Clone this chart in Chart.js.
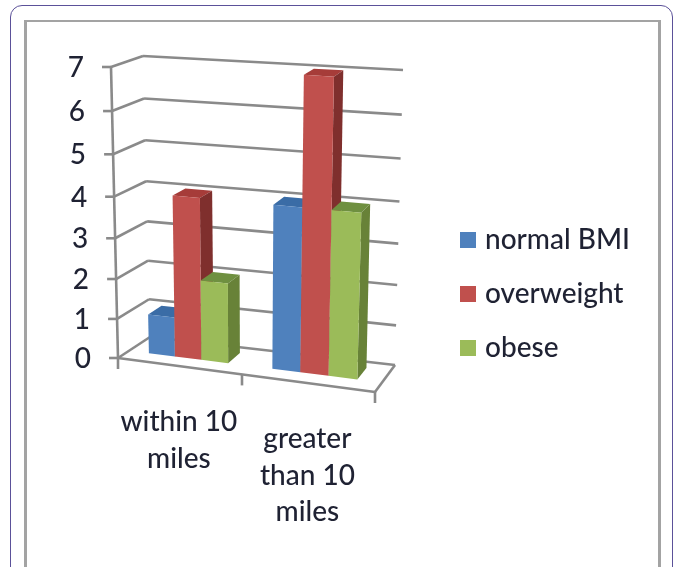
<!DOCTYPE html>
<html>
<head>
<meta charset="utf-8">
<title>BMI by distance</title>
<script src="https://cdn.jsdelivr.net/npm/chart.js@4"></script>
<style>
  html, body { margin: 0; padding: 0; background: #fff; overflow: hidden; }
  #outer { position: absolute; left: 10px; top: 5px; width: 663px; height: 620px; border: 1.5px solid #5b5199; border-radius: 12px; box-sizing: border-box; }
  #inner { position: absolute; left: 24px; top: 20px; width: 637px; height: 620px; border: 3px solid #a3a3a3; border-top-width: 2px; box-sizing: border-box; }
  #chart { position: absolute; left: 0; top: 0; }
</style>
</head>
<body>
<div id="outer"></div>
<div id="inner"></div>
<canvas id="chart" width="676" height="567"></canvas>
<script>
const categories = [['within 10', 'miles'], ['greater', 'than 10', 'miles']];
const normalBmi = [1, 4];
const overweight = [4, 7];
const obese = [2, 4];
const yTicks = [0, 1, 2, 3, 4, 5, 6, 7];

// front/back, left/right corners of the 3D box, bottom then top
const box = {
  fl0: [118, 358], fr0: [375, 392], bl0: [150, 337], br0: [395, 365],
  fl1: [111, 67], fr1: [384, 86], bl1: [143, 56], br1: [403, 70]
};
const barDepth = [0.35, 0.78];
const barNudge = -2.5; // groups sit slightly left of the category centres
const faceColors = {
  'normal BMI': { front: '#4f81bd', top: '#3a6ca6', side: '#3a6291' },
  overweight: { front: '#c0504d', top: '#a63c39', side: '#7f2f2d' },
  obese: { front: '#9bbb59', top: '#6f9040', side: '#688238' }
};
const gridColor = '#8a8a8a';
const textColor = '#1f2233';
const font = '500 28px Lato';

const mix = (a, b, t) => [a[0] + (b[0] - a[0]) * t, a[1] + (b[1] - a[1]) * t];
const warp = t => t - 0.07 * t * (1 - t); // cheap perspective foreshortening

// scale pixels (px, py) + depth -> page position
function project(chart, px, py, d) {
  const area = chart.chartArea;
  const u = warp((px - area.left) / area.width);
  const v = warp((area.bottom - py) / area.height);
  const bottom = mix(mix(box.fl0, box.fr0, u), mix(box.bl0, box.br0, u), d);
  const top = mix(mix(box.fl1, box.fr1, u), mix(box.bl1, box.br1, u), d);
  return mix(bottom, top, v);
}

function line(ctx, a, b) {
  ctx.beginPath();
  ctx.moveTo(a[0], a[1]);
  ctx.lineTo(b[0], b[1]);
  ctx.stroke();
}

function face(ctx, pts, color) {
  ctx.fillStyle = color;
  ctx.beginPath();
  pts.forEach((p, i) => (i ? ctx.lineTo(p[0], p[1]) : ctx.moveTo(p[0], p[1])));
  ctx.closePath();
  ctx.fill();
}

const box3d = {
  id: 'box3d',
  beforeDatasetsDraw(chart) {
    const { ctx, chartArea: area, scales: { x, y } } = chart;
    ctx.save();
    ctx.strokeStyle = gridColor;
    ctx.lineWidth = 2.6;
    ctx.lineJoin = 'round';
    ctx.fillStyle = textColor;
    ctx.font = font;
    ctx.textBaseline = 'middle';

    yTicks.forEach(t => {
      const py = y.getPixelForValue(t);
      const front = project(chart, area.left, py, 0);
      const back = project(chart, area.left, py, 1);
      const right = project(chart, area.right, py, 1);
      line(ctx, front, back);
      line(ctx, back, right);
      line(ctx, front, [front[0] - 9, front[1]]);
      ctx.textAlign = 'right';
      ctx.fillText(String(t), front[0] - 27, front[1] + 1);
    });

    // y axis and floor
    const p0 = y.getPixelForValue(0);
    line(ctx, project(chart, area.left, p0, 0), project(chart, area.left, y.getPixelForValue(7), 0));
    const fl = project(chart, area.left, p0, 0);
    const fr = project(chart, area.right, p0, 0);
    line(ctx, fl, fr);
    line(ctx, fr, project(chart, area.right, p0, 1));

    // category ticks sit between the groups
    [area.left, (area.left + area.right) / 2, area.right].forEach(px => {
      const p = project(chart, px, p0, 0);
      line(ctx, p, [p[0], p[1] + 11]);
    });

    ctx.textAlign = 'center';
    categories.forEach((lines, i) => {
      const p = project(chart, x.getPixelForValue(i), p0, 0);
      lines.forEach((text, j) => ctx.fillText(text, p[0], p[1] + 56 + j * 36.5));
    });

    // legend
    ctx.textAlign = 'left';
    chart.data.datasets.forEach((ds, i) => {
      const ly = 240 + i * 54;
      ctx.fillStyle = ds.backgroundColor;
      ctx.fillRect(460, ly - 8, 16, 16);
      ctx.fillStyle = textColor;
      ctx.fillText(ds.label, 485, ly);
    });
    ctx.restore();

    // bars as boxes, painted left to right
    categories.forEach((c, index) => {
      chart.data.datasets.forEach((ds, di) => {
        const bar = chart.getDatasetMeta(di).data[index];
        const colors = faceColors[ds.label];
        const x0 = bar.x - bar.width / 2 + barNudge;
        const x1 = bar.x + bar.width / 2 + barNudge;
        const [d0, d1] = barDepth;
        const p = (px, py, d) => project(chart, px, py, d);
        face(ctx, [p(x0, bar.y, d0), p(x1, bar.y, d0), p(x1, bar.y, d1), p(x0, bar.y, d1)], colors.top);
        face(ctx, [p(x1, bar.base, d0), p(x1, bar.y, d0), p(x1, bar.y, d1), p(x1, bar.base, d1)], colors.side);
        face(ctx, [p(x0, bar.base, d0), p(x1, bar.base, d0), p(x1, bar.y, d0), p(x0, bar.y, d0)], colors.front);
      });
    });
  },
  beforeDatasetDraw() {
    return false; // default flat bars are replaced by the boxes above
  }
};

new Chart(document.getElementById('chart'), {
  type: 'bar',
  data: {
    labels: categories,
    datasets: [
      { label: 'normal BMI', data: normalBmi, backgroundColor: '#4f81bd' },
      { label: 'overweight', data: overweight, backgroundColor: '#c0504d' },
      { label: 'obese', data: obese, backgroundColor: '#9bbb59' }
    ]
  },
  options: {
    responsive: false,
    animation: false,
    layout: { padding: 40 },
    datasets: { bar: { categoryPercentage: 0.65, barPercentage: 1 } },
    plugins: { legend: { display: false }, tooltip: { enabled: false } },
    scales: {
      x: { display: false },
      y: { display: false, min: 0, max: 7 }
    }
  },
  plugins: [box3d]
});
</script>
</body>
</html>
